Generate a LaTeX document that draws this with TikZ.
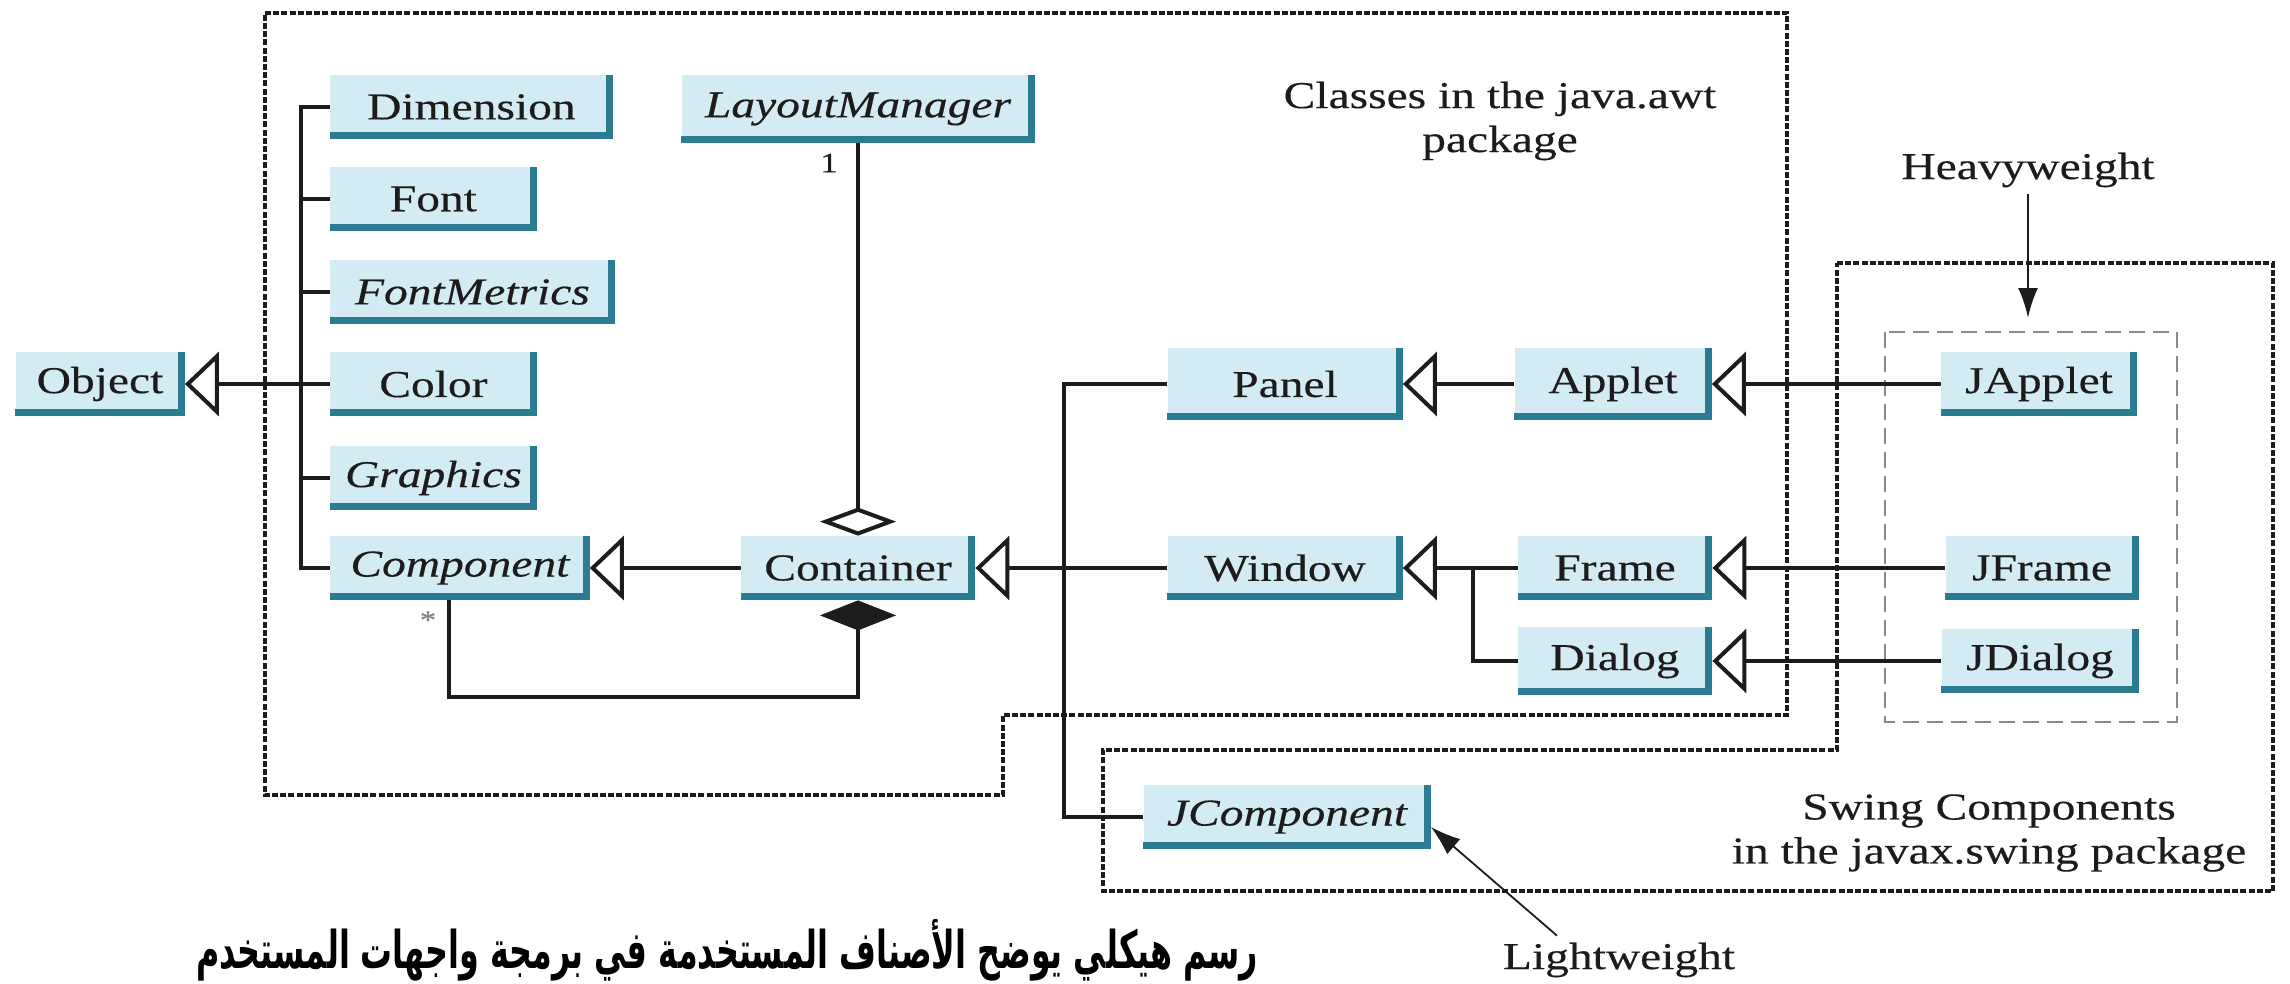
\documentclass[tikz,border=0pt]{standalone}
\usepackage{fontspec}
\setmainfont[FakeStretch=1.25,FakeBold=0.3]{Liberation Serif}
\newfontfamily\arabicfont[Script=Arabic]{DejaVu Sans}
\TeXXeTstate=1
\usetikzlibrary{arrows.meta,calc}
\definecolor{boxfill}{HTML}{D3EBF3}
\definecolor{boxshadow}{HTML}{2B7C93}
\definecolor{ink}{HTML}{1C1C1C}
\definecolor{dashgrey}{HTML}{8A8A8A}
\begin{document}
\begin{tikzpicture}[x=0.5pt,y=-0.5pt,
  cls/.style={fill=boxfill, text=ink, minimum height=32pt, inner sep=0pt, font=\fontsize{19pt}{22pt}\selectfont},
  lbl/.style={text=ink, font=\fontsize{19pt}{22pt}\selectfont, align=center},
  conn/.style={draw=ink, line width=2pt},
  gen/.style={conn, -{Triangle[open, length=17pt, width=32pt]}},
  agg/.style={conn, -{Diamond[open, length=14pt, width=38pt]}},
  compo/.style={conn, -{Diamond[length=15pt, width=38pt]}},
  pkg/.style={draw=ink, line width=1.9pt, dash pattern=on 3pt off 1.1pt},
  grp/.style={draw=dashgrey, line width=1.1pt, dash pattern=on 8pt off 4pt},
  note/.style={draw=ink, -{Latex[length=15pt, width=10pt]}},
]
\fill[white] (0,0) rectangle (2290,984);
\useasboundingbox (0,0) rectangle (2290,984);

% package outlines
\draw[pkg] (265,13) -- (1787,13) -- (1787,715) -- (1003,715) -- (1003,795) -- (265,795) -- cycle;
\draw[pkg] (1837,263) -- (2273,263) -- (2273,891) -- (1103,891) -- (1103,750) -- (1837,750) -- cycle;
\draw[grp] (1885,332) rectangle (2177,722);

% classes
\node[cls, minimum width=84.5pt] (Object) at (100,384) {Object};
\node[cls, anchor=west, minimum width=141pt] (Dimension) at (330,107) {Dimension};
\node[cls, anchor=west, minimum width=103pt] (Font) at (330,199) {Font};
\node[cls, anchor=west, minimum width=142pt] (FontMetrics) at (330,292) {\itshape FontMetrics};
\node[cls, anchor=west, minimum width=103pt] (Color) at (330,384) {Color};
\node[cls, anchor=west, minimum width=103pt] (Graphics) at (330,478) {\itshape Graphics};
\node[cls, anchor=west, minimum width=129.5pt] (Component) at (330,568) {\itshape Component};
\node[cls, minimum width=176.5pt, minimum height=34pt] (LayoutManager) at (858,109) {\itshape LayoutManager};
\node[cls, minimum width=117pt] (Container) at (858,568) {Container};
\node[cls, minimum width=117.5pt, minimum height=36pt] (Panel) at (1285,384) {Panel};
\node[cls, minimum width=98.5pt, minimum height=36pt] (Applet) at (1613,384) {Applet};
\node[cls, minimum width=98pt] (JApplet) at (2039,384) {JApplet};
\node[cls, minimum width=117.5pt] (Window) at (1285,568) {Window};
\node[cls, minimum width=97pt] (Frame) at (1615,568) {Frame};
\node[cls, minimum width=96.5pt] (JFrame) at (2042,568) {JFrame};
\node[cls, minimum width=97pt, minimum height=34pt] (Dialog) at (1615,661) {Dialog};
\node[cls, minimum width=98.5pt] (JDialog) at (2040,661) {JDialog};
\node[cls, minimum width=143.5pt] (JComponent) at (1287,817) {\itshape JComponent};

\foreach \n in {Object,Dimension,Font,FontMetrics,Color,Graphics,Component,LayoutManager,Container,Panel,Applet,JApplet,Window,Frame,JFrame,Dialog,JDialog,JComponent}{
  \draw[boxshadow, line width=3.5pt] ([xshift=-1.75pt]\n.north east) -- ([xshift=-1.75pt,yshift=1.75pt]\n.south east) -- ([yshift=1.75pt]\n.south west);
}

% multiplicities
\node[text=ink, font=\fontsize{14pt}{16pt}\selectfont] (m1) at (829,163) {1};
\node[text=gray, font=\fontsize{13pt}{15pt}\selectfont] (mstar) at (428,620) {*};

% left hierarchy
\coordinate (trunkT) at (301,107);
\coordinate (trunkB) at (301,568);
\draw[gen] (Color.west) -- (Object.east);
\draw[conn] (Dimension.west) -- (trunkT) -- (trunkB) -- (Component.west);
\foreach \n in {Font,FontMetrics,Graphics}{
  \draw[conn] (\n.west) -- (\n.west -| trunkT);
}
\draw[gen] (Container.west) -- (Component.east);
\draw[agg] (LayoutManager.south) -- (Container.north);
\coordinate (cbot) at (858,697);
\draw[compo] ([xshift=-5.5pt]Component.south) |- (cbot) -- (Container.south);

% container subclasses
\coordinate (vTop) at (1064,384);
\coordinate (vBot) at (1064,817);
\draw[gen] (Window.west) -- (Container.east);
\draw[conn] (Panel.west) -- (vTop) -- (vBot) -- (JComponent.west);
\draw[gen] (Applet.west) -- (Panel.east);
\draw[gen] (JApplet.west) -- (Applet.east);
\draw[gen] (Frame.west) -- (Window.east);
\coordinate (wj) at (1473,568);
\draw[conn] (Dialog.west) -| (wj);
\draw[gen] (JFrame.west) -- (Frame.east);
\draw[gen] (JDialog.west) -- (Dialog.east);

% labels
\node[lbl] (awtlabel) at (1500,121) {Classes in the java.awt\\package};
\node[lbl] (HW) at (2028,170) {Heavyweight};
\coordinate (hvTip) at (2028,318);
\draw[note, line width=1.4pt] (HW.south) -- (hvTip);
\node[lbl] (swinglabel) at (1989,833) {Swing Components\\in the javax.swing package};
\node[lbl] (LW) at (1619,960) {Lightweight};
\draw[note, line width=0.9pt] ([xshift=-31pt]LW.north) -- ([yshift=-5pt]JComponent.east);

\node[text=black, inner sep=0pt, font=\arabicfont\bfseries\fontsize{26pt}{30pt}\selectfont] (caption) at (727,950) {\resizebox{531pt}{\height}{\beginR رسم هيكلي يوضح الأصناف المستخدمة في برمجة واجهات المستخدم\endR}};
\end{tikzpicture}
\end{document}
